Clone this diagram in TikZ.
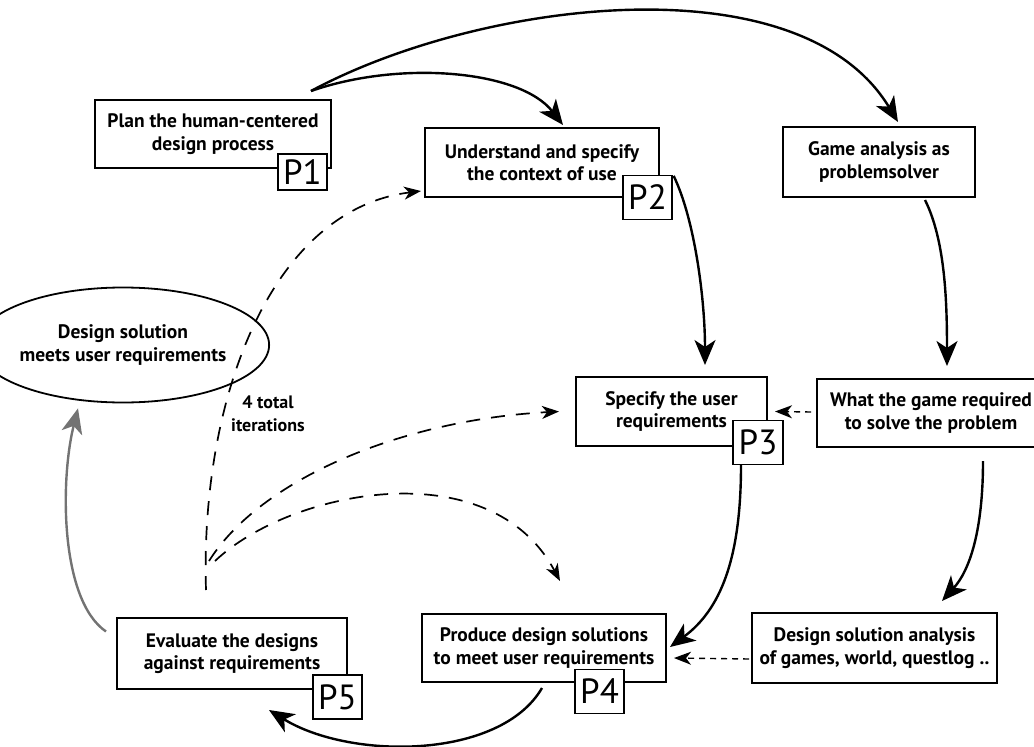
\documentclass[tikz,border=0pt]{standalone}
\usepackage{fontspec}
\setmainfont{PT Sans}
\usetikzlibrary{arrows.meta,calc,shapes.geometric}
\begin{document}
\begin{tikzpicture}[x=1pt,y=-1pt,
  stepbox/.style={draw,line width=2pt,fill=white,align=center,inner sep=0pt,
    font=\bfseries\fontsize{19.5}{22.5}\selectfont},
  tagbox/.style={draw,line width=1.3pt,fill=white,inner sep=0pt,
    minimum width=49pt,minimum height=44pt,font=\fontsize{35}{35}\selectfont},
  goalshape/.style={draw,ellipse,line width=1.8pt,align=center,inner sep=0pt,
    minimum width=220pt,minimum height=115pt,font=\bfseries\fontsize{19.5}{22.5}\selectfont},
  flow/.style={line width=2.4pt,-{Stealth[length=25pt,width=21pt,inset=7pt]}},
  iter/.style={line width=1.7pt,dash pattern=on 14pt off 11pt,
    -{Stealth[length=17pt,width=13pt,inset=5pt]}},
  link/.style={line width=1.4pt,dash pattern=on 6pt off 5pt,
    -{Stealth[length=17pt,width=13pt,inset=5pt]}},
  back/.style={line width=2.4pt,draw=black!55,-{Stealth[length=25pt,width=21pt,inset=7pt]}}
]
\useasboundingbox (0,0) rectangle (1034,747);

% process steps
\node[stepbox,minimum width=236pt,minimum height=68pt] (p1) at (213,134)
  {Plan the human-centered\\design process};
\node[stepbox,minimum width=234pt,minimum height=69pt] (p2) at (542,162.5)
  {Understand and specify\\the context of use};
\node[stepbox,minimum width=192pt,minimum height=70pt] (game) at (879,162)
  {Game analysis as\\problemsolver};
\node[stepbox,minimum width=191pt,minimum height=69pt] (p3) at (671.5,411.5)
  {Specify the user\\requirements};
\node[stepbox,minimum width=228pt,minimum height=68pt] (what) at (931,413)
  {What the game required\\to solve the problem};
\node[stepbox,minimum width=230pt,minimum height=71pt] (p5) at (232,653.5)
  {Evaluate the designs\\against requirements};
\node[stepbox,minimum width=244pt,minimum height=68pt] (p4) at (544,648)
  {Produce design solutions\\to meet user requirements};
\node[stepbox,minimum width=245pt,minimum height=70pt] (ana) at (874.5,648)
  {Design solution analysis\\of games, world, questlog ..};
\node[goalshape] (goal) at (123,345) {Design solution\\meets user requirements};

% step tags
\node[tagbox,minimum height=36pt] (t1) at (302.5,172) {P1};
\node[tagbox] (t2) at (647.5,197.5) {P2};
\node[tagbox,minimum width=50pt] (t3) at (758,442.5) {P3};
\node[tagbox] (t4) at (599.5,691.5) {P4};
\node[tagbox] (t5) at (337.5,697) {P5};

\node[font=\bfseries\fontsize{18}{23}\selectfont,align=center] (iterlabel) at (268,414)
  {4 total\\iterations};

% main flow
\draw[flow] ($(p1.north east)+(-21,-8)$) .. controls (400,60) and (520,70) .. ($(p2.north)+(21,-2)$);
\draw[flow] ($(p1.north east)+(-21,-8)$) .. controls (480,0) and (800,-40) .. ($(game.north)+(19,-4)$);
\draw[flow] ($(t2.north east)+(1,1)$) .. controls (695,220) and (705,300) .. ($(p3.north)+(33.5,-11)$);
\draw[flow] ($(game.south)+(46,2)$) .. controls (945,240) and (947,300) .. ($(what.north)+(16,-12)$);
\draw[flow] ($(what.south)+(52,13)$) .. controls (983,530) and (970,570) .. ($(ana.north)+(67.5,-11)$);
\draw[flow] ($(t3.south)+(-17,0)$) .. controls (741,560) and (720,610) .. ($(p4.east)+(3,-1)$);
\draw[flow] ($(p4.south)+(-2,5)$) .. controls (500,760) and (350,760) .. ($(p5.south)+(37,20)$);
\draw[back] ($(p5.west)+(-10,-22)$) .. controls (60,600) and (60,480) .. ($(goal.south)+(-45,5)$);

% iterations
\draw[iter] ($(p5.north)+(-26,-27)$) .. controls (200,400) and (270,210) .. ($(p2.south west)+(-3,-7)$);
\draw[iter] ($(p5.north)+(-23,-56)$) .. controls (260,480) and (400,420) .. ($(p3.west)+(-16,0)$);
\draw[iter] ($(p5.north)+(-17,-56)$) .. controls (290,490) and (490,450) .. ($(p4.north)+(16,-32)$);

% analysis feeds
\draw[link] ($(what.west)+(-5,-1)$) -- ($(p3.east)+(7,0)$);
\draw[link] ($(ana.west)+(-2,11)$) -- ($(p4.east)+(7,10)$);
\end{tikzpicture}
\end{document}
